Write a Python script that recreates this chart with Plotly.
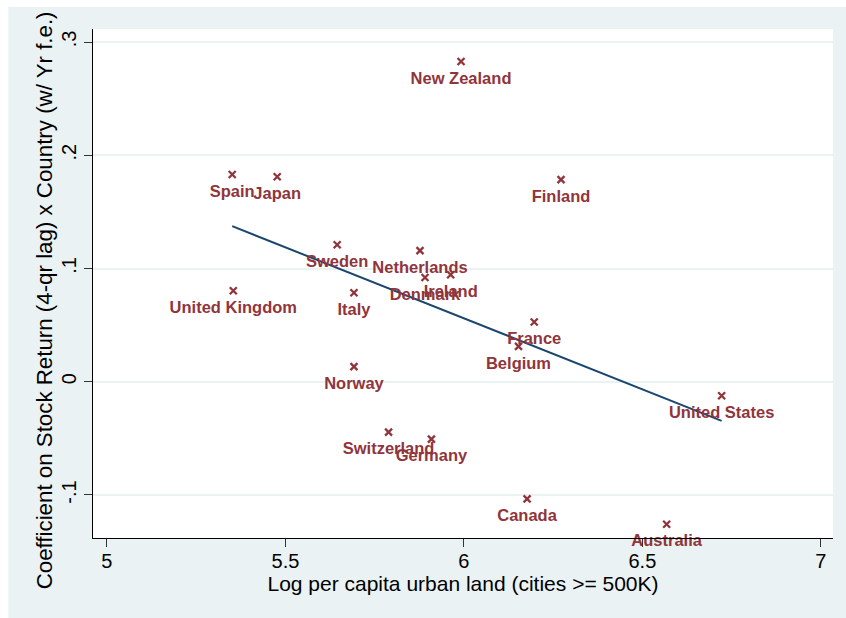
import numpy as np
import plotly.graph_objects as go

countries = ["New Zealand", "Spain", "Japan", "Finland", "Sweden", "Netherlands",
             "Denmark", "Ireland", "United Kingdom", "Italy", "France", "Belgium",
             "Norway", "United States", "Switzerland", "Germany", "Canada", "Australia"]
log_urban_land = [5.992, 5.351, 5.477, 6.272, 5.645, 5.877,
                  5.891, 5.963, 5.354, 5.692, 6.197, 6.153,
                  5.692, 6.722, 5.789, 5.909, 6.177, 6.568]
coef = [0.2828, 0.183, 0.181, 0.1785, 0.121, 0.1158,
        0.0921, 0.0945, 0.0804, 0.0786, 0.0527, 0.0312,
        0.0133, -0.0124, -0.0445, -0.0507, -0.1034, -0.1258]

x_ticks = [5, 5.5, 6, 6.5, 7]
x_ticktext = ["5", "5.5", "6", "6.5", "7"]
y_ticks = [-0.1, 0, 0.1, 0.2, 0.3]
y_ticktext = ["-.1", "0", ".1", ".2", ".3"]

MAROON = "#90353B"
NAVY = "#1A476F"
BG = "#EAF2F3"
FONT = "Liberation Sans, Arial, sans-serif"

xs = np.array(log_urban_land)
ys = np.array(coef)
slope, intercept = np.polyfit(xs, ys, 1)
fit_x = np.array([xs.min(), xs.max()])
fit_y = intercept + slope * fit_x

fig = go.Figure()
fig.add_trace(go.Scatter(
    x=fit_x, y=fit_y, mode="lines",
    line=dict(color=NAVY, width=2), hoverinfo="skip", showlegend=False))
# labels (transparent spacer markers push the text below the visible marks)
fig.add_trace(go.Scatter(
    x=log_urban_land, y=coef, mode="markers+text", text=countries,
    textposition="bottom center",
    textfont=dict(family=FONT, size=16.5, color=MAROON, weight="bold"),
    marker=dict(size=14, color="rgba(0,0,0,0)"),
    hoverinfo="skip", showlegend=False, cliponaxis=False))
fig.add_trace(go.Scatter(
    x=log_urban_land, y=coef, mode="markers",
    marker=dict(symbol="x-thin", size=7, color=MAROON,
                line=dict(color=MAROON, width=2.3)),
    text=countries, showlegend=False, cliponaxis=False))

fig.update_layout(
    width=846, height=618,
    margin=dict(l=93, r=13, t=29, b=80),
    paper_bgcolor=BG, plot_bgcolor="white",
    font=dict(family=FONT, color="black"),
    xaxis=dict(range=[4.961, 7.034], tickvals=x_ticks, ticktext=x_ticktext,
               showgrid=False, zeroline=False, showline=True,
               linecolor="black", linewidth=1.3, ticks="outside",
               ticklen=8, tickwidth=1.3, tickcolor="#333",
               ticklabelstandoff=-3,
               tickfont=dict(size=20),
               title=dict(text="Log per capita urban land (cities >= 500K)",
                          font=dict(size=21), standoff=2)),
    yaxis=dict(range=[-0.138, 0.3115], tickvals=y_ticks, ticktext=y_ticktext,
               showgrid=True, gridcolor=BG, gridwidth=1.5, zeroline=False,
               showline=True, linecolor="black", linewidth=1.3,
               ticks="outside", ticklen=8, tickwidth=1.3, tickcolor="#333",
               tickangle=-90, tickfont=dict(size=20)),
    annotations=[dict(
        text="Coefficient on Stock Return (4-qr lag) x Country (w/ Yr f.e.)",
        xref="paper", yref="paper", x=-0.0644, y=0.4676,
        xanchor="center", yanchor="middle", textangle=-90,
        showarrow=False, font=dict(size=22.3, family=FONT, color="black"))],
    shapes=[
        dict(type="rect", xref="paper", yref="paper", x0=-0.2, x1=-0.1144,
             y0=-0.3, y1=1.2, fillcolor="white", line=dict(width=0), layer="below"),
        dict(type="rect", xref="paper", yref="paper", x0=-0.2, x1=1.2,
             y0=1.0433, y1=1.2, fillcolor="white", line=dict(width=0), layer="below"),
    ],
)

fig.write_html("out.html")
